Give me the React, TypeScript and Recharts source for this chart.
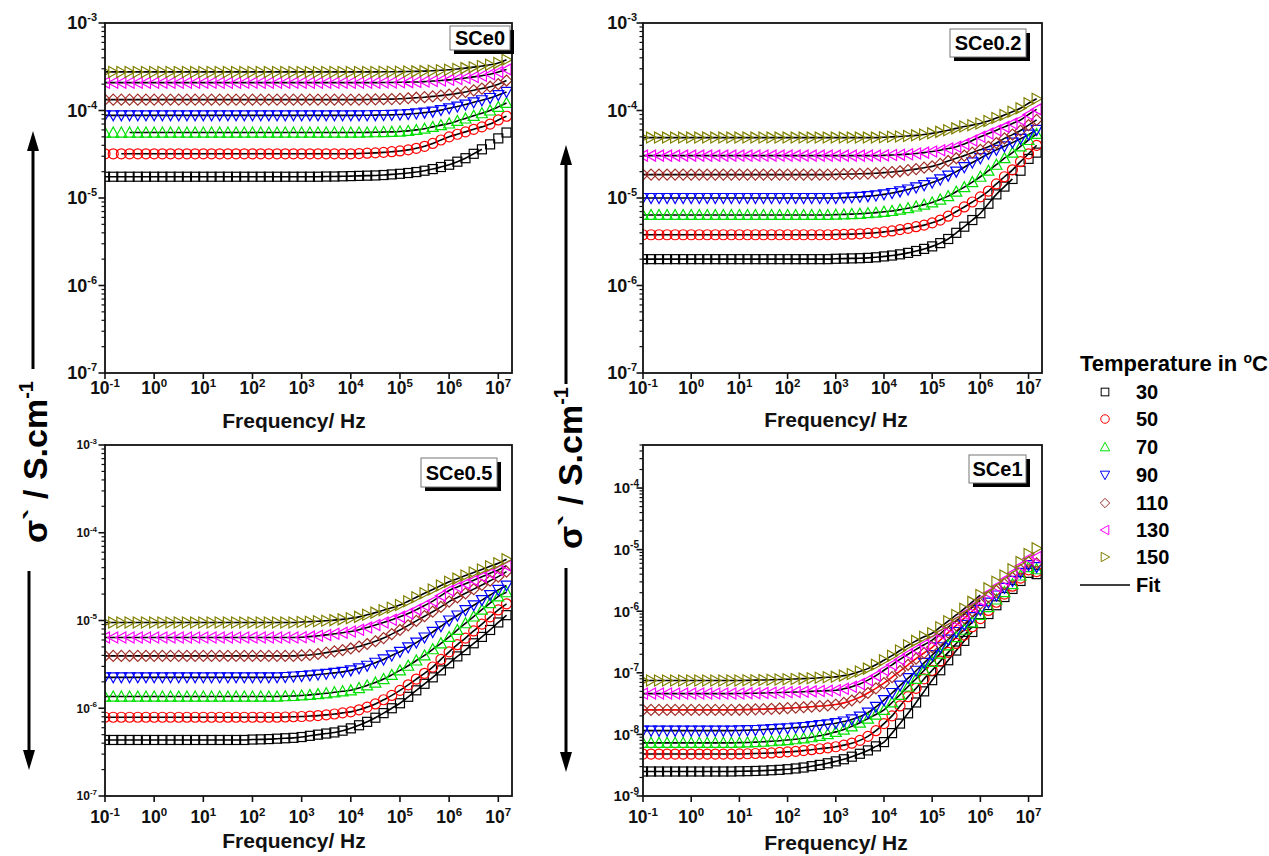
import React from 'react';
import { LineChart, Line, XAxis, YAxis } from 'recharts';

const FONT = '"Liberation Sans", Arial, Helvetica, sans-serif';

// Frequency grid (Hz)
const FREQ = [0.1, 0.147, 0.215, 0.316, 0.464, 0.681, 1, 1.47, 2.15, 3.16, 4.64, 6.81,
  10, 14.7, 21.5, 31.6, 46.4, 68.1, 100, 147, 215, 316, 464, 681,
  1e3, 1.47e3, 2.15e3, 3.16e3, 4.64e3, 6.81e3, 1e4, 1.47e4, 2.15e4, 3.16e4, 4.64e4, 6.81e4,
  1e5, 1.47e5, 2.15e5, 3.16e5, 4.64e5, 6.81e5, 1e6, 1.47e6, 2.15e6, 3.16e6, 4.64e6, 6.81e6, 1e7, 1.47e7];

const TEMPS = ['30', '50', '70', '90', '110', '130', '150'];
const COLORS = ['#000000', '#ff0000', '#00e000', '#0000ff', '#a0302a', '#ff00ff', '#808000'];
const SHAPES = ['square', 'circle', 'up', 'down', 'diamond', 'left', 'right'];

// ---------- SCe0 ----------
const SCE0_30 = [1.75e-5,1.75e-5,1.75e-5,1.75e-5,1.75e-5,1.75e-5,1.75e-5,1.75e-5,1.75e-5,1.75e-5,1.75e-5,1.75e-5,
  1.75e-5,1.75e-5,1.75e-5,1.75e-5,1.75e-5,1.75e-5,1.75e-5,1.75e-5,1.75e-5,1.75e-5,1.75e-5,1.75e-5,
  1.75e-5,1.75e-5,1.75e-5,1.76e-5,1.76e-5,1.77e-5,1.78e-5,1.79e-5,1.80e-5,1.81e-5,1.83e-5,1.86e-5,
  1.89e-5,1.93e-5,1.98e-5,2.05e-5,2.14e-5,2.26e-5,2.40e-5,2.60e-5,2.85e-5,3.20e-5,3.60e-5,4.10e-5,4.80e-5,5.60e-5];
const SCE0_50 = [3.2e-5,3.2e-5,3.2e-5,3.2e-5,3.2e-5,3.2e-5,3.2e-5,3.2e-5,3.2e-5,3.2e-5,3.2e-5,3.2e-5,
  3.2e-5,3.2e-5,3.2e-5,3.2e-5,3.2e-5,3.2e-5,3.2e-5,3.2e-5,3.2e-5,3.2e-5,3.2e-5,3.2e-5,
  3.2e-5,3.2e-5,3.2e-5,3.2e-5,3.2e-5,3.2e-5,3.2e-5,3.22e-5,3.25e-5,3.28e-5,3.32e-5,3.38e-5,
  3.45e-5,3.55e-5,3.7e-5,3.9e-5,4.2e-5,4.6e-5,5.0e-5,5.35e-5,5.7e-5,6.1e-5,6.5e-5,7.0e-5,7.8e-5,8.6e-5];
const SCE0_70 = [5.6e-5,5.6e-5,5.6e-5,5.6e-5,5.6e-5,5.6e-5,5.6e-5,5.6e-5,5.6e-5,5.6e-5,5.6e-5,5.6e-5,
  5.6e-5,5.6e-5,5.6e-5,5.6e-5,5.6e-5,5.6e-5,5.6e-5,5.6e-5,5.6e-5,5.6e-5,5.6e-5,5.6e-5,
  5.6e-5,5.6e-5,5.6e-5,5.6e-5,5.6e-5,5.6e-5,5.6e-5,5.6e-5,5.62e-5,5.64e-5,5.67e-5,5.7e-5,
  5.75e-5,5.85e-5,6.0e-5,6.2e-5,6.5e-5,6.8e-5,7.1e-5,7.6e-5,8.1e-5,8.7e-5,9.3e-5,1.0e-4,1.1e-4,1.22e-4];
const SCE0_90 = [8.8e-5,8.8e-5,8.8e-5,8.8e-5,8.8e-5,8.8e-5,8.8e-5,8.8e-5,8.8e-5,8.8e-5,8.8e-5,8.8e-5,
  8.8e-5,8.8e-5,8.8e-5,8.8e-5,8.8e-5,8.8e-5,8.8e-5,8.8e-5,8.8e-5,8.8e-5,8.8e-5,8.8e-5,
  8.8e-5,8.8e-5,8.8e-5,8.8e-5,8.8e-5,8.8e-5,8.8e-5,8.8e-5,8.82e-5,8.85e-5,8.88e-5,8.92e-5,
  9.0e-5,9.1e-5,9.25e-5,9.45e-5,9.7e-5,1.01e-4,1.06e-4,1.11e-4,1.17e-4,1.24e-4,1.31e-4,1.39e-4,1.5e-4,1.63e-4];
const SCE0_110 = [1.33e-4,1.33e-4,1.33e-4,1.33e-4,1.33e-4,1.33e-4,1.33e-4,1.33e-4,1.33e-4,1.33e-4,1.33e-4,1.33e-4,
  1.33e-4,1.33e-4,1.33e-4,1.33e-4,1.33e-4,1.33e-4,1.33e-4,1.33e-4,1.33e-4,1.33e-4,1.33e-4,1.33e-4,
  1.33e-4,1.33e-4,1.33e-4,1.33e-4,1.33e-4,1.33e-4,1.33e-4,1.33e-4,1.335e-4,1.34e-4,1.345e-4,1.35e-4,
  1.36e-4,1.38e-4,1.4e-4,1.42e-4,1.45e-4,1.48e-4,1.52e-4,1.57e-4,1.63e-4,1.7e-4,1.78e-4,1.87e-4,2.0e-4,2.2e-4];
const SCE0_130 = [2.08e-4,2.08e-4,2.08e-4,2.08e-4,2.08e-4,2.08e-4,2.08e-4,2.08e-4,2.08e-4,2.08e-4,2.08e-4,2.08e-4,
  2.08e-4,2.08e-4,2.08e-4,2.08e-4,2.08e-4,2.08e-4,2.08e-4,2.08e-4,2.08e-4,2.08e-4,2.08e-4,2.08e-4,
  2.08e-4,2.08e-4,2.08e-4,2.08e-4,2.08e-4,2.08e-4,2.08e-4,2.08e-4,2.08e-4,2.08e-4,2.09e-4,2.09e-4,
  2.1e-4,2.11e-4,2.12e-4,2.14e-4,2.17e-4,2.2e-4,2.24e-4,2.29e-4,2.35e-4,2.42e-4,2.5e-4,2.6e-4,2.75e-4,2.95e-4];
const SCE0_150 = [2.76e-4,2.76e-4,2.76e-4,2.76e-4,2.76e-4,2.76e-4,2.76e-4,2.76e-4,2.76e-4,2.76e-4,2.76e-4,2.76e-4,
  2.76e-4,2.76e-4,2.76e-4,2.76e-4,2.76e-4,2.76e-4,2.76e-4,2.76e-4,2.76e-4,2.76e-4,2.76e-4,2.76e-4,
  2.76e-4,2.76e-4,2.76e-4,2.76e-4,2.76e-4,2.76e-4,2.76e-4,2.76e-4,2.76e-4,2.76e-4,2.77e-4,2.77e-4,
  2.78e-4,2.79e-4,2.8e-4,2.82e-4,2.85e-4,2.88e-4,2.92e-4,2.98e-4,3.05e-4,3.13e-4,3.22e-4,3.33e-4,3.5e-4,3.8e-4];
const SCE0_FIT_FROM = [0, 2, 3, 0, 0, 0, 0];
const SCE0_FIT_TO = [46, 49, 49, 49, 49, 49, 49];

// ---------- SCe0.2 ----------
const SCE02_30 = [2.0e-6,2.0e-6,2.0e-6,2.0e-6,2.0e-6,2.0e-6,2.0e-6,2.0e-6,2.0e-6,2.0e-6,2.0e-6,2.0e-6,
  2.0e-6,2.0e-6,2.0e-6,2.0e-6,2.0e-6,2.0e-6,2.0e-6,2.0e-6,2.0e-6,2.0e-6,2.0e-6,2.0e-6,
  2.02e-6,2.03e-6,2.04e-6,2.05e-6,2.07e-6,2.1e-6,2.15e-6,2.2e-6,2.27e-6,2.36e-6,2.48e-6,2.62e-6,
  2.8e-6,3.05e-6,3.4e-6,4.0e-6,4.7e-6,5.6e-6,6.7e-6,8.6e-6,1.1e-5,1.35e-5,1.65e-5,2.05e-5,2.8e-5,3.3e-5];
const SCE02_50 = [3.8e-6,3.8e-6,3.8e-6,3.8e-6,3.8e-6,3.8e-6,3.8e-6,3.8e-6,3.8e-6,3.8e-6,3.8e-6,3.8e-6,
  3.8e-6,3.8e-6,3.8e-6,3.8e-6,3.8e-6,3.8e-6,3.8e-6,3.8e-6,3.8e-6,3.8e-6,3.8e-6,3.8e-6,
  3.82e-6,3.84e-6,3.86e-6,3.9e-6,3.95e-6,4.0e-6,4.1e-6,4.2e-6,4.35e-6,4.5e-6,4.7e-6,4.9e-6,
  5.2e-6,5.6e-6,6.2e-6,7.0e-6,7.9e-6,9.0e-6,1.03e-5,1.2e-5,1.45e-5,1.75e-5,2.1e-5,2.6e-5,3.2e-5,4.0e-5];
const SCE02_70 = [6.4e-6,6.4e-6,6.4e-6,6.4e-6,6.4e-6,6.4e-6,6.4e-6,6.4e-6,6.4e-6,6.4e-6,6.4e-6,6.4e-6,
  6.4e-6,6.4e-6,6.4e-6,6.4e-6,6.4e-6,6.4e-6,6.4e-6,6.4e-6,6.4e-6,6.4e-6,6.4e-6,6.4e-6,
  6.45e-6,6.5e-6,6.55e-6,6.6e-6,6.7e-6,6.8e-6,6.95e-6,7.1e-6,7.35e-6,7.65e-6,8.0e-6,8.4e-6,
  8.9e-6,9.6e-6,1.05e-5,1.18e-5,1.33e-5,1.52e-5,1.75e-5,2.05e-5,2.4e-5,2.85e-5,3.3e-5,3.9e-5,4.6e-5,5.4e-5];
const SCE02_90 = [1.0e-5,1.0e-5,1.0e-5,1.0e-5,1.0e-5,1.0e-5,1.0e-5,1.0e-5,1.0e-5,1.0e-5,1.0e-5,1.0e-5,
  1.0e-5,1.0e-5,1.0e-5,1.0e-5,1.0e-5,1.0e-5,1.0e-5,1.0e-5,1.0e-5,1.0e-5,1.0e-5,1.0e-5,
  1.0e-5,1.01e-5,1.02e-5,1.03e-5,1.05e-5,1.07e-5,1.1e-5,1.14e-5,1.19e-5,1.25e-5,1.32e-5,1.4e-5,
  1.5e-5,1.63e-5,1.8e-5,2.0e-5,2.25e-5,2.55e-5,2.85e-5,3.2e-5,3.55e-5,3.9e-5,4.3e-5,4.75e-5,5.3e-5,6.0e-5];
const SCE02_110 = [1.85e-5,1.85e-5,1.85e-5,1.85e-5,1.85e-5,1.85e-5,1.85e-5,1.85e-5,1.85e-5,1.85e-5,1.85e-5,1.85e-5,
  1.85e-5,1.85e-5,1.85e-5,1.85e-5,1.85e-5,1.85e-5,1.85e-5,1.85e-5,1.85e-5,1.85e-5,1.85e-5,1.85e-5,
  1.86e-5,1.87e-5,1.88e-5,1.89e-5,1.9e-5,1.92e-5,1.95e-5,1.98e-5,2.02e-5,2.08e-5,2.14e-5,2.22e-5,
  2.3e-5,2.45e-5,2.65e-5,2.85e-5,3.05e-5,3.3e-5,3.55e-5,3.85e-5,4.25e-5,4.8e-5,5.3e-5,5.9e-5,6.8e-5,7.8e-5];
const SCE02_130 = [3.05e-5,3.05e-5,3.05e-5,3.05e-5,3.05e-5,3.05e-5,3.05e-5,3.05e-5,3.05e-5,3.05e-5,3.05e-5,3.05e-5,
  3.05e-5,3.05e-5,3.05e-5,3.05e-5,3.05e-5,3.05e-5,3.05e-5,3.05e-5,3.05e-5,3.05e-5,3.05e-5,3.05e-5,
  3.05e-5,3.05e-5,3.05e-5,3.05e-5,3.05e-5,3.05e-5,3.07e-5,3.1e-5,3.13e-5,3.17e-5,3.22e-5,3.3e-5,
  3.4e-5,3.52e-5,3.67e-5,3.86e-5,4.15e-5,4.55e-5,5.0e-5,5.45e-5,5.95e-5,6.5e-5,7.1e-5,7.8e-5,9.0e-5,1.03e-4];
const SCE02_150 = [4.9e-5,4.9e-5,4.9e-5,4.9e-5,4.9e-5,4.9e-5,4.9e-5,4.9e-5,4.9e-5,4.9e-5,4.9e-5,4.9e-5,
  4.9e-5,4.9e-5,4.9e-5,4.9e-5,4.9e-5,4.9e-5,4.9e-5,4.9e-5,4.9e-5,4.9e-5,4.9e-5,4.9e-5,
  4.9e-5,4.9e-5,4.9e-5,4.9e-5,4.9e-5,4.9e-5,4.95e-5,5.0e-5,5.05e-5,5.12e-5,5.2e-5,5.32e-5,
  5.48e-5,5.7e-5,5.95e-5,6.25e-5,6.55e-5,6.8e-5,7.1e-5,7.6e-5,8.2e-5,8.9e-5,9.7e-5,1.06e-4,1.21e-4,1.36e-4];
const SCE02_FIT_FROM = [0, 0, 0, 0, 0, 0, 0];
const SCE02_FIT_TO = [46, 49, 49, 49, 49, 49, 49];

// ---------- SCe0.5 ----------
const SCE05_30 = [4.35e-7,4.35e-7,4.35e-7,4.35e-7,4.35e-7,4.35e-7,4.35e-7,4.35e-7,4.35e-7,4.35e-7,4.35e-7,4.35e-7,
  4.35e-7,4.35e-7,4.35e-7,4.35e-7,4.35e-7,4.35e-7,4.4e-7,4.42e-7,4.45e-7,4.5e-7,4.55e-7,4.6e-7,
  4.7e-7,4.85e-7,5.0e-7,5.15e-7,5.3e-7,5.55e-7,5.9e-7,6.4e-7,7.0e-7,7.8e-7,8.8e-7,1.0e-6,
  1.14e-6,1.35e-6,1.6e-6,1.9e-6,2.25e-6,2.7e-6,3.25e-6,3.9e-6,4.6e-6,5.5e-6,6.5e-6,7.8e-6,9.5e-6,1.15e-5];
const SCE05_50 = [7.9e-7,7.9e-7,7.9e-7,7.9e-7,7.9e-7,7.9e-7,7.9e-7,7.9e-7,7.9e-7,7.9e-7,7.9e-7,7.9e-7,
  7.9e-7,7.9e-7,7.9e-7,7.9e-7,7.9e-7,7.9e-7,7.9e-7,7.9e-7,7.9e-7,7.9e-7,7.95e-7,8.0e-7,
  8.05e-7,8.15e-7,8.25e-7,8.4e-7,8.6e-7,8.85e-7,9.1e-7,9.6e-7,1.03e-6,1.12e-6,1.25e-6,1.4e-6,
  1.6e-6,1.85e-6,2.15e-6,2.5e-6,2.95e-6,3.6e-6,4.4e-6,5.3e-6,6.3e-6,7.6e-6,9.1e-6,1.1e-5,1.32e-5,1.55e-5];
const SCE05_70 = [1.36e-6,1.36e-6,1.36e-6,1.36e-6,1.36e-6,1.36e-6,1.36e-6,1.36e-6,1.36e-6,1.36e-6,1.36e-6,1.36e-6,
  1.36e-6,1.36e-6,1.36e-6,1.36e-6,1.36e-6,1.36e-6,1.36e-6,1.36e-6,1.36e-6,1.36e-6,1.37e-6,1.38e-6,
  1.4e-6,1.42e-6,1.45e-6,1.48e-6,1.52e-6,1.56e-6,1.6e-6,1.7e-6,1.82e-6,1.96e-6,2.15e-6,2.4e-6,
  2.7e-6,3.05e-6,3.5e-6,4.0e-6,4.7e-6,5.5e-6,6.5e-6,7.8e-6,9.3e-6,1.11e-5,1.33e-5,1.58e-5,1.88e-5,2.1e-5];
const SCE05_90 = [2.25e-6,2.25e-6,2.25e-6,2.25e-6,2.25e-6,2.25e-6,2.25e-6,2.25e-6,2.25e-6,2.25e-6,2.25e-6,2.25e-6,
  2.25e-6,2.25e-6,2.25e-6,2.25e-6,2.25e-6,2.25e-6,2.25e-6,2.25e-6,2.25e-6,2.25e-6,2.27e-6,2.3e-6,
  2.33e-6,2.37e-6,2.42e-6,2.47e-6,2.53e-6,2.6e-6,2.7e-6,2.85e-6,3.05e-6,3.3e-6,3.6e-6,4.0e-6,
  4.4e-6,4.95e-6,5.6e-6,6.4e-6,7.4e-6,8.6e-6,1.0e-5,1.14e-5,1.31e-5,1.49e-5,1.71e-5,1.95e-5,2.23e-5,2.5e-5];
const SCE05_110 = [3.95e-6,3.95e-6,3.95e-6,3.95e-6,3.95e-6,3.95e-6,3.95e-6,3.95e-6,3.95e-6,3.95e-6,3.95e-6,3.95e-6,
  3.95e-6,3.95e-6,3.95e-6,3.95e-6,3.95e-6,3.95e-6,3.95e-6,3.95e-6,3.95e-6,3.95e-6,3.95e-6,3.95e-6,
  4.0e-6,4.05e-6,4.15e-6,4.3e-6,4.45e-6,4.6e-6,4.8e-6,5.05e-6,5.4e-6,5.8e-6,6.3e-6,7.0e-6,
  7.8e-6,8.8e-6,9.9e-6,1.12e-5,1.26e-5,1.43e-5,1.64e-5,1.83e-5,2.04e-5,2.28e-5,2.54e-5,2.84e-5,3.16e-5,3.6e-5];
const SCE05_130 = [6.4e-6,6.4e-6,6.4e-6,6.4e-6,6.4e-6,6.4e-6,6.4e-6,6.4e-6,6.4e-6,6.4e-6,6.4e-6,6.4e-6,
  6.4e-6,6.4e-6,6.4e-6,6.4e-6,6.4e-6,6.4e-6,6.4e-6,6.4e-6,6.4e-6,6.4e-6,6.4e-6,6.4e-6,
  6.45e-6,6.55e-6,6.7e-6,6.85e-6,7.05e-6,7.25e-6,7.5e-6,7.85e-6,8.3e-6,8.9e-6,9.5e-6,1.02e-5,
  1.1e-5,1.2e-5,1.33e-5,1.48e-5,1.66e-5,1.92e-5,2.2e-5,2.41e-5,2.63e-5,2.88e-5,3.15e-5,3.45e-5,3.77e-5,4.2e-5];
const SCE05_150 = [9.5e-6,9.5e-6,9.5e-6,9.5e-6,9.5e-6,9.5e-6,9.5e-6,9.5e-6,9.5e-6,9.5e-6,9.5e-6,9.5e-6,
  9.5e-6,9.5e-6,9.5e-6,9.5e-6,9.5e-6,9.5e-6,9.5e-6,9.5e-6,9.5e-6,9.5e-6,9.5e-6,9.5e-6,
  9.6e-6,9.7e-6,9.8e-6,9.95e-6,1.01e-5,1.03e-5,1.06e-5,1.1e-5,1.16e-5,1.23e-5,1.31e-5,1.4e-5,
  1.5e-5,1.66e-5,1.84e-5,2.04e-5,2.26e-5,2.5e-5,2.77e-5,3.0e-5,3.25e-5,3.53e-5,3.82e-5,4.15e-5,4.5e-5,5.0e-5];
const SCE05_FIT_FROM = [0, 0, 0, 0, 0, 0, 0];
const SCE05_FIT_TO = [49, 49, 49, 49, 49, 49, 49];

// ---------- SCe1 ----------
const SCE1_30 = [2.5e-9,2.5e-9,2.5e-9,2.5e-9,2.5e-9,2.5e-9,2.5e-9,2.5e-9,2.5e-9,2.5e-9,2.5e-9,2.5e-9,
  2.52e-9,2.53e-9,2.55e-9,2.58e-9,2.62e-9,2.66e-9,2.72e-9,2.8e-9,2.9e-9,3.05e-9,3.2e-9,3.4e-9,
  3.65e-9,3.95e-9,4.35e-9,4.85e-9,5.5e-9,6.4e-9,7.5e-9,10.5e-9,15e-9,22e-9,33e-9,50e-9,
  76e-9,110e-9,160e-9,230e-9,330e-9,460e-9,640e-9,900e-9,1250e-9,1700e-9,2300e-9,3100e-9,4200e-9,4000e-9];
const SCE1_50 = [4.8e-9,4.8e-9,4.8e-9,4.8e-9,4.8e-9,4.8e-9,4.8e-9,4.8e-9,4.8e-9,4.8e-9,4.8e-9,4.8e-9,
  4.82e-9,4.85e-9,4.9e-9,4.95e-9,5.0e-9,5.1e-9,5.2e-9,5.3e-9,5.45e-9,5.65e-9,5.85e-9,6.05e-9,
  6.3e-9,6.7e-9,7.2e-9,8.0e-9,9.3e-9,11.5e-9,15e-9,20e-9,29e-9,41e-9,56e-9,80e-9,
  110e-9,155e-9,215e-9,300e-9,410e-9,560e-9,760e-9,1030e-9,1400e-9,1900e-9,2550e-9,3450e-9,4700e-9,4400e-9];
const SCE1_70 = [7.3e-9,7.3e-9,7.3e-9,7.3e-9,7.3e-9,7.3e-9,7.3e-9,7.3e-9,7.3e-9,7.3e-9,7.3e-9,7.3e-9,
  7.35e-9,7.4e-9,7.5e-9,7.6e-9,7.75e-9,7.9e-9,8.1e-9,8.35e-9,8.65e-9,9.0e-9,9.5e-9,10.1e-9,
  11e-9,12e-9,13.5e-9,15.5e-9,18e-9,21e-9,25e-9,33e-9,44e-9,60e-9,80e-9,110e-9,
  150e-9,205e-9,280e-9,380e-9,500e-9,660e-9,870e-9,1170e-9,1550e-9,2050e-9,2750e-9,3800e-9,5200e-9,4800e-9];
const SCE1_90 = [11.5e-9,11.5e-9,11.5e-9,11.5e-9,11.5e-9,11.5e-9,11.5e-9,11.5e-9,11.5e-9,11.5e-9,11.5e-9,11.5e-9,
  11.6e-9,11.7e-9,11.8e-9,12.0e-9,12.2e-9,12.4e-9,12.6e-9,12.9e-9,13.2e-9,13.6e-9,14.1e-9,14.6e-9,
  15.2e-9,16.2e-9,17.5e-9,19.5e-9,22.5e-9,28e-9,36e-9,47e-9,62e-9,82e-9,108e-9,145e-9,
  194e-9,260e-9,345e-9,460e-9,600e-9,800e-9,1050e-9,1380e-9,1800e-9,2400e-9,3100e-9,4200e-9,5600e-9,5200e-9];
const SCE1_110 = [25e-9,25e-9,25e-9,25e-9,25e-9,25e-9,25e-9,25e-9,25e-9,25e-9,25e-9,25e-9,
  25.1e-9,25.3e-9,25.5e-9,25.7e-9,26e-9,26.3e-9,26.7e-9,27.1e-9,27.6e-9,28.2e-9,28.8e-9,29.5e-9,
  30.5e-9,32.5e-9,35.5e-9,40e-9,47e-9,56e-9,68e-9,85e-9,107e-9,135e-9,170e-9,210e-9,
  260e-9,340e-9,450e-9,590e-9,770e-9,1000e-9,1330e-9,1700e-9,2150e-9,2750e-9,3500e-9,4700e-9,6300e-9,6000e-9];
const SCE1_130 = [46e-9,46e-9,46e-9,46e-9,46e-9,46e-9,46e-9,46e-9,46e-9,46e-9,46e-9,46e-9,
  46.2e-9,46.4e-9,46.7e-9,47e-9,47.4e-9,47.8e-9,48.3e-9,48.8e-9,49.4e-9,50e-9,50.7e-9,51.3e-9,
  52e-9,55e-9,59.5e-9,66e-9,76e-9,90e-9,110e-9,135e-9,165e-9,200e-9,240e-9,285e-9,
  340e-9,430e-9,550e-9,700e-9,900e-9,1170e-9,1500e-9,1950e-9,2500e-9,3200e-9,4100e-9,5400e-9,7200e-9,7600e-9];
const SCE1_150 = [75e-9,75e-9,75e-9,75e-9,75e-9,75e-9,75e-9,75e-9,75e-9,75e-9,75e-9,75e-9,
  75.2e-9,75.5e-9,76e-9,76.5e-9,77e-9,77.8e-9,78.6e-9,79.5e-9,80.5e-9,81.5e-9,83e-9,84.5e-9,
  86e-9,90e-9,96e-9,105e-9,117e-9,135e-9,160e-9,190e-9,230e-9,280e-9,330e-9,385e-9,
  440e-9,550e-9,690e-9,870e-9,1100e-9,1420e-9,1830e-9,2350e-9,3000e-9,3800e-9,4800e-9,6300e-9,8500e-9,10500e-9];
const SCE1_FIT_FROM = [0, 0, 0, 0, 0, 0, 0];
const SCE1_FIT_TO = [41, 41, 41, 42, 42, 42, 42];

const FIT_BLACK = ['#000', '#000', '#000', '#000', '#000', '#000', '#000'];
const FIT_SCE1 = ['#000', '#000', '#000', '#000', '#ff0000', '#000', '#000'];

// Axis ticks
const X_TICKS = [0.1, 1, 10, 100, 1e3, 1e4, 1e5, 1e6, 1e7];
const X_EXP = ['-1', '0', '1', '2', '3', '4', '5', '6', '7'];
const Y_MAJOR_A = [1e-7, 1e-6, 1e-5, 1e-4, 1e-3];
const Y_EXP_A = ['-7', '-6', '-5', '-4', '-3'];
const Y_MAJOR_B = [1e-9, 1e-8, 1e-7, 1e-6, 1e-5, 1e-4];
const Y_EXP_B = ['-9', '-8', '-7', '-6', '-5', '-4'];
const MINOR_MULT = [2, 3, 4, 5, 6, 7, 8, 9];

const PANEL_NAMES = ['SCe0', 'SCe0.2', 'SCe0.5', 'SCe1'];

function withMinors(majors: number[], max: number) {
  const out: number[] = [];
  majors.forEach((m) => {
    out.push(m);
    MINOR_MULT.forEach((k) => out.push(m * k));
  });
  return out.filter((v) => v <= max * 1.0001);
}

function findIdx(arr: number[], v: number) {
  for (let i = 0; i < arr.length; i++) if (Math.abs(v / arr[i] - 1) < 1e-6) return i;
  return -1;
}

const YW = 60;
const XH = 40;

const PANELS = [
  { name: PANEL_NAMES[0], left: 0, top: 0, w: 540, h: 430, margin: { top: 23, right: 28, bottom: 17, left: 45 },
    series: [SCE0_30, SCE0_50, SCE0_70, SCE0_90, SCE0_110, SCE0_130, SCE0_150], from: SCE0_FIT_FROM, to: SCE0_FIT_TO, fitColors: FIT_BLACK,
    yDomain: [1e-7, 1e-3], yMajors: Y_MAJOR_A, yExp: Y_EXP_A, yFs: 18, yExpFs: 11, yGap: 8, xOff: 21,
    label: { x: 450, y: 26, w: 60, h: 24 }, title: { x: 294, y: 428 } },
  { name: PANEL_NAMES[1], left: 540, top: 0, w: 540, h: 430, margin: { top: 23, right: 38, bottom: 17, left: 43 },
    series: [SCE02_30, SCE02_50, SCE02_70, SCE02_90, SCE02_110, SCE02_130, SCE02_150], from: SCE02_FIT_FROM, to: SCE02_FIT_TO, fitColors: FIT_BLACK,
    yDomain: [1e-7, 1e-3], yMajors: Y_MAJOR_A, yExp: Y_EXP_A, yFs: 18, yExpFs: 11, yGap: 6, xOff: 21,
    label: { x: 950, y: 29, w: 76, h: 28 }, title: { x: 836, y: 427 } },
  { name: PANEL_NAMES[2], left: 0, top: 430, w: 540, h: 426, margin: { top: 15, right: 28, bottom: 20, left: 45 },
    series: [SCE05_30, SCE05_50, SCE05_70, SCE05_90, SCE05_110, SCE05_130, SCE05_150], from: SCE05_FIT_FROM, to: SCE05_FIT_TO, fitColors: FIT_BLACK,
    yDomain: [1e-7, 1e-3], yMajors: Y_MAJOR_A, yExp: Y_EXP_A, yFs: 12, yExpFs: 8, yGap: 8, xOff: 27,
    label: { x: 421, y: 458, w: 76, h: 29 }, title: { x: 294, y: 848 } },
  { name: PANEL_NAMES[3], left: 540, top: 430, w: 540, h: 426, margin: { top: 15, right: 38, bottom: 20, left: 43 },
    series: [SCE1_30, SCE1_50, SCE1_70, SCE1_90, SCE1_110, SCE1_130, SCE1_150], from: SCE1_FIT_FROM, to: SCE1_FIT_TO, fitColors: FIT_SCE1,
    yDomain: [1e-9, 5e-4], yMajors: Y_MAJOR_B, yExp: Y_EXP_B, yFs: 15, yExpFs: 10, yGap: 4, xOff: 27,
    label: { x: 969, y: 455, w: 57, h: 28 }, title: { x: 836, y: 850 } },
];

function Marker({ cx, cy, shape, color, sw = 1.2, k = 1 }: any) {
  const common = { fill: 'none', stroke: color, strokeWidth: sw };
  const a = 5.5 * k;
  const b = 4.5 * k;
  switch (shape) {
    case 'square':
      return <rect x={cx - b} y={cy - b} width={2 * b} height={2 * b} {...common} />;
    case 'circle':
      return <circle cx={cx} cy={cy} r={5 * k} {...common} />;
    case 'up':
      return <polygon points={`${cx - a},${cy + b} ${cx + a},${cy + b} ${cx},${cy - a}`} {...common} />;
    case 'down':
      return <polygon points={`${cx - a},${cy - b} ${cx + a},${cy - b} ${cx},${cy + a}`} {...common} />;
    case 'diamond':
      return <polygon points={`${cx},${cy - a} ${cx + a},${cy} ${cx},${cy + a} ${cx - a},${cy}`} {...common} />;
    case 'left':
      return <polygon points={`${cx + b},${cy - a} ${cx + b},${cy + a} ${cx - a},${cy}`} {...common} />;
    case 'right':
      return <polygon points={`${cx - b},${cy - a} ${cx - b},${cy + a} ${cx + a},${cy}`} {...common} />;
    default:
      return null;
  }
}

function buildRows(series: number[][], from: number[], to: number[]) {
  return FREQ.map((f, i) => {
    const r: any = { f };
    series.forEach((s, j) => {
      r['d' + j] = s[i];
      r['fit' + j] = i >= from[j] && i <= to[j] ? s[i] : null;
    });
    return r;
  });
}

function Panel({ cfg }: any) {
  const rows = buildRows(cfg.series, cfg.from, cfg.to);
  const yTicks = withMinors(cfg.yMajors, cfg.yDomain[1]);
  const xTick = (p: any) => {
    const { x, y, payload } = p;
    const i = findIdx(X_TICKS, payload.value);
    return (
      <g key={'xt' + payload.value}>
        <line x1={x} y1={y} x2={x} y2={y + 6} stroke="#111" strokeWidth={1.6} />
        <text x={x} y={y + cfg.xOff} textAnchor="middle" fontFamily={FONT} fontWeight={700} fontSize={17.5} fill="#111">
          <tspan>10</tspan>
          <tspan dy={-7} fontSize={11.5}>{X_EXP[i]}</tspan>
        </text>
      </g>
    );
  };
  const yTick = (p: any) => {
    const { x, y, payload } = p;
    const i = findIdx(cfg.yMajors, payload.value);
    if (i < 0) {
      return <line key={'ym' + payload.value} x1={x - 3.5} y1={y} x2={x} y2={y} stroke="#111" strokeWidth={1.2} />;
    }
    return (
      <g key={'yt' + payload.value}>
        <line x1={x - 6.5} y1={y} x2={x} y2={y} stroke="#111" strokeWidth={1.6} />
        <text x={x - cfg.yGap} y={y + cfg.yFs * 0.36} textAnchor="end" fontFamily={FONT} fontWeight={700} fontSize={cfg.yFs} fill="#111">
          <tspan>10</tspan>
          <tspan dy={-cfg.yFs * 0.45} fontSize={cfg.yExpFs}>{cfg.yExp[i]}</tspan>
        </text>
      </g>
    );
  };
  return (
    <div style={{ position: 'absolute', left: cfg.left, top: cfg.top }}>
      <LineChart width={cfg.w} height={cfg.h} data={rows} margin={cfg.margin}>
        <XAxis dataKey="f" type="number" scale="log" domain={[0.1, 1.9e7]} allowDataOverflow ticks={X_TICKS}
          interval={0} tickSize={0} tickMargin={0} axisLine={false} tickLine={false} height={XH} tick={xTick} />
        <YAxis type="number" scale="log" domain={cfg.yDomain} allowDataOverflow ticks={yTicks}
          interval={0} tickSize={0} tickMargin={0} axisLine={false} tickLine={false} width={YW} tick={yTick} />
        {cfg.series.map((_: any, j: number) => (
          <Line key={'m' + j} dataKey={'d' + j} stroke="none" isAnimationActive={false} activeDot={false} legendType="none"
            dot={(p: any) => (p.cx == null || p.cy == null) ? <g key={`m${j}-${p.index}`} /> :
              <Marker key={`m${j}-${p.index}`} cx={p.cx} cy={p.cy} shape={SHAPES[j]} color={COLORS[j]} />} />
        ))}
        {cfg.series.map((_: any, j: number) => (
          <Line key={'f' + j} dataKey={'fit' + j} type="monotone" stroke={cfg.fitColors[j]} strokeWidth={1.6}
            dot={false} activeDot={false} isAnimationActive={false} connectNulls={false} legendType="none" />
        ))}
      </LineChart>
    </div>
  );
}

const LEGEND_ROWS = [392, 419, 447, 475, 503, 530, 557];

function Overlay() {
  return (
    <svg width={1269} height={856} style={{ position: 'absolute', left: 0, top: 0, pointerEvents: 'none' }}>
      {PANELS.map((cfg) => {
        const x = cfg.left + cfg.margin.left + YW;
        const y = cfg.top + cfg.margin.top;
        const w = cfg.w - cfg.margin.left - YW - cfg.margin.right;
        const h = cfg.h - cfg.margin.top - cfg.margin.bottom - XH;
        const L = cfg.label;
        return (
          <g key={'ov' + cfg.name}>
            <rect x={x} y={y} width={w} height={h} fill="none" stroke="#111" strokeWidth={1.8} />
            <rect x={L.x + 4} y={L.y + 4} width={L.w} height={L.h} fill="#000" />
            <rect x={L.x} y={L.y} width={L.w} height={L.h} fill="#fff" stroke="#777" strokeWidth={1} />
            <text x={L.x + L.w / 2} y={L.y + L.h / 2 + 7} textAnchor="middle" fontFamily={FONT} fontWeight={700} fontSize={20} fill="#000">{cfg.name}</text>
            <text x={cfg.title.x} y={cfg.title.y} textAnchor="middle" fontFamily={FONT} fontWeight={700} fontSize={21} fill="#111">Frequency/ Hz</text>
          </g>
        );
      })}
      {/* Y titles and arrows */}
      <text transform="translate(47,462) rotate(-90)" textAnchor="middle" fontFamily={FONT} fontWeight={700} fontSize={34} fill="#000">
        σ` / S.cm<tspan dy={-14} fontSize={20}>-1</tspan>
      </text>
      <text transform="translate(582,468) rotate(-90)" textAnchor="middle" fontFamily={FONT} fontWeight={700} fontSize={34} fill="#000">
        σ` / S.cm<tspan dy={-14} fontSize={20}>-1</tspan>
      </text>
      <line x1={33} y1={369} x2={33} y2={148} stroke="#000" strokeWidth={3} />
      <polygon points="33,131 27,151 39,151" fill="#000" />
      <line x1={29} y1={571} x2={29} y2={752} stroke="#000" strokeWidth={3} />
      <polygon points="29,770 23,750 35,750" fill="#000" />
      <line x1={566} y1={384} x2={566} y2={162} stroke="#000" strokeWidth={3} />
      <polygon points="566,145 560,165 572,165" fill="#000" />
      <line x1={566} y1={568} x2={566} y2={755} stroke="#000" strokeWidth={3} />
      <polygon points="566,772 560,752 572,752" fill="#000" />
      {/* Legend */}
      <text x={1080} y={371} fontFamily={FONT} fontWeight={700} fontSize={22} fill="#000">
        Temperature in <tspan dy={-8} fontSize={14}>o</tspan><tspan dy={8}>C</tspan>
      </text>
      {TEMPS.map((t, j) => (
        <g key={'lg' + t}>
          <Marker cx={1105} cy={LEGEND_ROWS[j]} shape={SHAPES[j]} color={COLORS[j]} sw={1} k={0.85} />
          <text x={1136} y={LEGEND_ROWS[j] + 7} fontFamily={FONT} fontWeight={700} fontSize={20} fill="#000">{t}</text>
        </g>
      ))}
      <line x1={1080} y1={585} x2={1130} y2={585} stroke="#000" strokeWidth={1.6} />
      <text x={1136} y={592} fontFamily={FONT} fontWeight={700} fontSize={20} fill="#000">Fit</text>
    </svg>
  );
}

export default function App() {
  return (
    <div style={{ position: 'absolute', left: 0, top: 0, width: 1269, height: 856, background: '#fff', overflow: 'hidden' }}>
      {PANELS.map((cfg) => <Panel key={cfg.name} cfg={cfg} />)}
      <Overlay />
    </div>
  );
}
